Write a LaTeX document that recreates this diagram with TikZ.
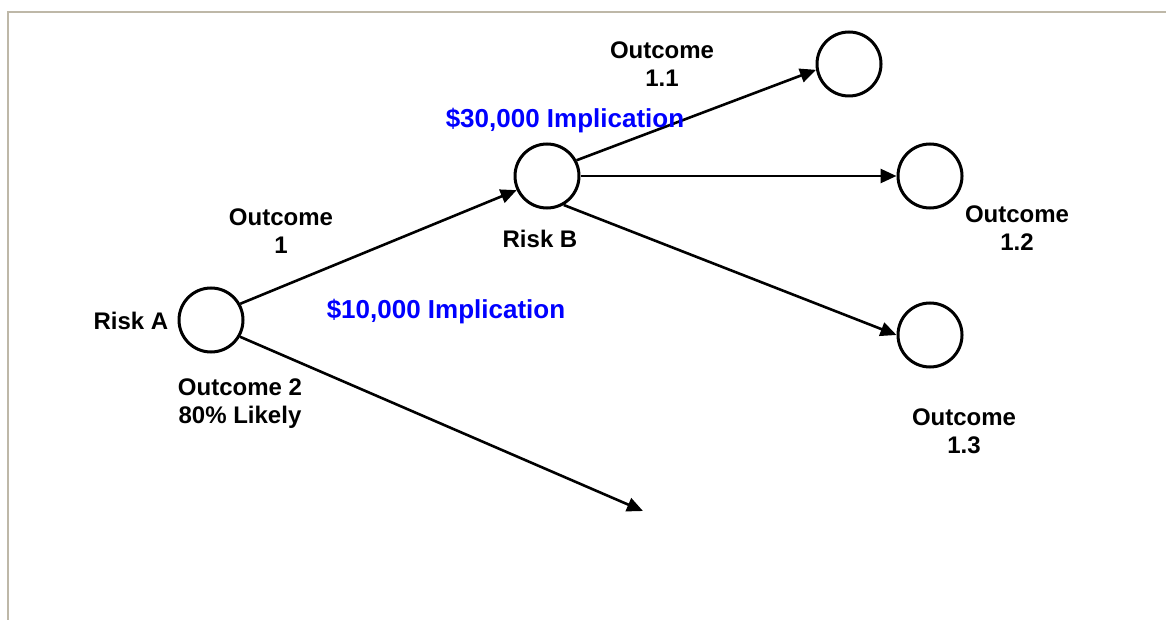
\documentclass[tikz,border=0pt]{standalone}
\usepackage{fontspec}
\setmainfont{Liberation Sans}
\usepackage{tikz}
\usetikzlibrary{positioning,arrows.meta}
\usepackage{xcolor}
\definecolor{implblue}{RGB}{0,0,255}
\definecolor{framegray}{RGB}{190,184,168}

\tikzset{
  riskcircle/.style={circle,draw=black,line width=1.5pt,minimum size=32pt,inner sep=0pt},
  branchlabel/.style={align=center,inner sep=0pt,font=\bfseries\fontsize{12}{14}\selectfont},
  costlabel/.style={inner sep=0pt,text=implblue,font=\bfseries\fontsize{13}{15}\selectfont},
  branch/.style={line width=1.3pt,-{Triangle[length=8pt,width=7pt]}}
}

\begin{document}
\begin{tikzpicture}[x=0.5pt,y=-0.5pt]
\useasboundingbox (0,0) rectangle (1166,620);
\draw[framegray,line width=1.2pt] (8,620) -- (8,12) -- (1166,12);

\node[riskcircle] (riskA) at (211,320) {};
\node[riskcircle] (riskB) at (547,176) {};
\node[riskcircle] (out11) at (849,64) {};
\node[riskcircle] (out12) at (930,176) {};
\node[riskcircle] (out13) at (930,335) {};
\coordinate (out2end) at (643,511);

\draw[branch] (riskA.29) -- (riskB.205);
\draw[branch] (riskA.-30) -- (out2end);
\draw[branch] (riskB.28) -- (out11.190);
\draw[branch] (riskB.east) -- (out12.west);
\draw[branch] (riskB.-60) -- (out13.west);

\node[branchlabel] (lblRiskA) at (131,321) {Risk A};
\node[branchlabel] (lblRiskB) at (540,239) {Risk B};
\node[branchlabel] (lblOut1) at (281,231) {Outcome\\1};
\node[branchlabel] (lblOut2) at (240,404) {Outcome 2\\80\% Likely};
\node[branchlabel] (lblOut11) at (662,64) {Outcome\\1.1};
\node[branchlabel] (lblOut12) at (1017,228) {Outcome\\1.2};
\node[branchlabel] (lblOut13) at (964,431) {Outcome\\1.3};
\node[costlabel] (lblCost1) at (446,312) {\$10,000 Implication};
\node[costlabel] (lblCost2) at (565,121) {\$30,000 Implication};
\end{tikzpicture}
\end{document}
